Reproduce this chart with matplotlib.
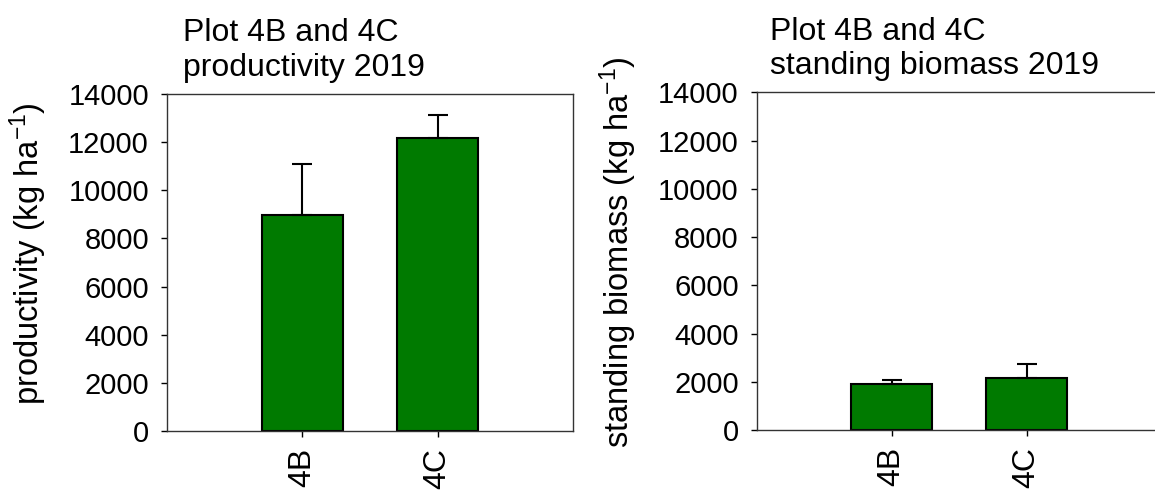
import matplotlib
matplotlib.use("Agg")
import matplotlib.pyplot as plt
import numpy as np

plt.rcParams['font.family'] = ['Liberation Sans', 'DejaVu Sans']
plt.rcParams['mathtext.default'] = 'regular'

plots = ['4B', '4C']
productivity = [8970, 12160]
productivity_err = [2130, 955]
biomass = [1895, 2170]
biomass_err = [180, 565]

bar_green = '#007a00'


def bar_panel(ax, values, errors, title, ylabel, title_x):
    x = np.arange(1, len(plots) + 1)
    ax.bar(x, values, width=0.6, color=bar_green, edgecolor='black',
           linewidth=1.5, zorder=2)
    ax.errorbar(x, values, yerr=[np.zeros(len(errors)), errors], fmt='none',
                ecolor='black', elinewidth=1.5, capsize=7.5, capthick=1.5,
                zorder=3)
    ax.set_xlim(0, 3)
    ax.set_ylim(0, 14000)
    ax.set_yticks(np.arange(0, 14001, 2000))
    ax.set_xticks(x)
    ax.set_xticklabels(plots, rotation=90, fontsize=23)
    ax.tick_params(axis='y', labelsize=21, direction='out', length=4,
                   width=1, pad=9)
    ax.tick_params(axis='x', direction='out', length=4, width=1, pad=8)
    for s in ax.spines.values():
        s.set_linewidth(1)
        s.set_color('#333333')
    ax.set_ylabel(ylabel, fontsize=23.5)
    ax.yaxis.set_label_coords(-0.29, 0.527)
    ax.set_title(title, fontsize=23, loc='left', x=title_x, pad=13,
                 linespacing=1.2)


fig = plt.figure(figsize=(11.55, 4.92), dpi=100)
ax1 = fig.add_axes([0.1446, 0.124, 0.3515, 0.685])
ax2 = fig.add_axes([0.6552, 0.126, 0.3506, 0.686])

bar_panel(ax1, productivity, productivity_err,
          'Plot 4B and 4C\nproductivity 2019',
          'productivity (kg ha$^{-1}$)', 0.039)
bar_panel(ax2, biomass, biomass_err,
          'Plot 4B and 4C\nstanding biomass 2019',
          'standing biomass (kg ha$^{-1}$)', 0.033)

fig.savefig('out.png', dpi=100)
